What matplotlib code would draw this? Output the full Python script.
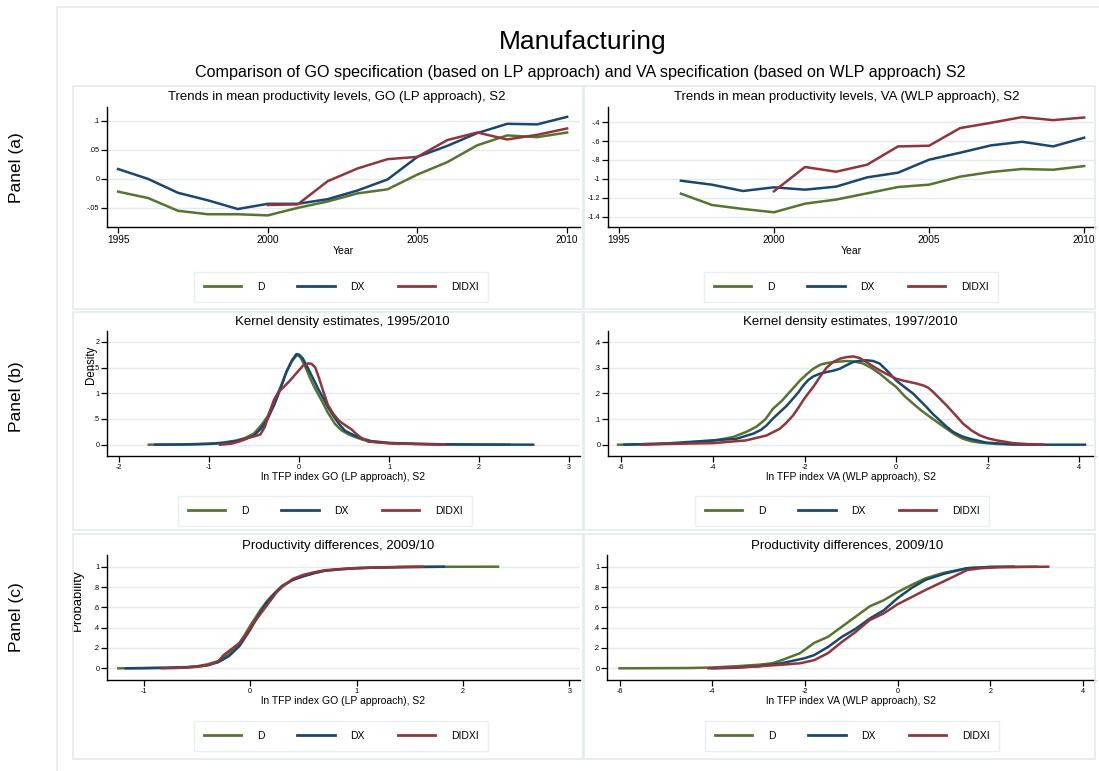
import matplotlib
matplotlib.use("Agg")
import matplotlib.pyplot as plt
from matplotlib.patches import Rectangle
from matplotlib.lines import Line2D

plt.rcParams['font.family'] = ['Liberation Sans', 'DejaVu Sans']

W, H = 1099, 771

# --- data -------------------------------------------------------------
series_names = ['D', 'DX', 'DIDXI']
colors = ['#55752f', '#1a476f', '#90353b']

# trends in mean productivity, GO (LP)
go_years = list(range(1995, 2011))
go_years_didxi = list(range(2000, 2011))
go_mean_d = [-0.022, -0.033, -0.055, -0.061, -0.061, -0.063, -0.050, -0.039,
             -0.025, -0.018, 0.0075, 0.029, 0.058, 0.075, 0.072, 0.080]
go_mean_dx = [0.017, 0.0, -0.024, -0.037, -0.052, -0.043, -0.043, -0.035,
              -0.020, -0.001, 0.038, 0.057, 0.079, 0.095, 0.094, 0.107]
go_mean_didxi = [-0.045, -0.044, -0.004, 0.018, 0.034, 0.038, 0.067, 0.080,
                 0.068, 0.076, 0.087]

# trends in mean productivity, VA (WLP)
va_years = list(range(1997, 2011))
va_years_didxi = list(range(2000, 2011))
va_mean_d = [-1.157, -1.277, -1.319, -1.354, -1.263, -1.220, -1.154, -1.087,
             -1.062, -0.977, -0.928, -0.896, -0.904, -0.865]
va_mean_dx = [-1.020, -1.062, -1.129, -1.090, -1.115, -1.083, -0.985, -0.935,
              -0.798, -0.724, -0.646, -0.608, -0.657, -0.565]
va_mean_didxi = [-1.132, -0.875, -0.925, -0.851, -0.657, -0.650, -0.463,
                 -0.407, -0.347, -0.379, -0.351]

# kernel densities, GO
kd_go_x_d = [-1.67, -1.3, -1.0, -0.85, -0.7, -0.6, -0.5, -0.42, -0.35, -0.27, -0.2,
             -0.14, -0.08, -0.04, -0.02, 0.01, 0.06, 0.12, 0.18, 0.25, 0.32, 0.4,
             0.47, 0.55, 0.62, 0.7, 0.8, 1.0, 1.3, 1.7, 2.0, 2.33]
kd_go_y_d = [0, 0.005, 0.02, 0.04, 0.08, 0.13, 0.22, 0.38, 0.55, 0.86, 1.15, 1.42,
             1.62, 1.71, 1.74, 1.71, 1.55, 1.30, 1.08, 0.86, 0.62, 0.40, 0.28, 0.20,
             0.15, 0.10, 0.06, 0.03, 0.015, 0.005, 0.002, 0]
kd_go_x_dx = [-1.6, -1.2, -1.0, -0.85, -0.7, -0.6, -0.5, -0.42, -0.35, -0.27, -0.2,
              -0.14, -0.08, -0.03, 0.0, 0.04, 0.1, 0.16, 0.21, 0.27, 0.32, 0.38,
              0.44, 0.51, 0.6, 0.7, 0.8, 1.0, 1.3, 1.7, 2.1, 2.6]
kd_go_y_dx = [0, 0.005, 0.015, 0.03, 0.07, 0.11, 0.18, 0.32, 0.5, 0.8, 1.12, 1.42,
              1.64, 1.76, 1.75, 1.68, 1.48, 1.27, 1.09, 0.9, 0.73, 0.56, 0.41,
              0.27, 0.19, 0.12, 0.07, 0.035, 0.015, 0.005, 0.002, 0]
kd_go_x_didxi = [-0.88, -0.75, -0.65, -0.55, -0.48, -0.43, -0.38, -0.33, -0.28,
                 -0.23, -0.16, -0.1, -0.05, 0.01, 0.05, 0.1, 0.14, 0.18, 0.22, 0.26,
                 0.32, 0.38, 0.44, 0.51, 0.58, 0.64, 0.7, 0.77, 0.9, 1.07, 1.3, 1.61]
kd_go_y_didxi = [0, 0.02, 0.07, 0.14, 0.17, 0.2, 0.35, 0.62, 0.87, 1.02, 1.14,
                 1.25, 1.35, 1.47, 1.55, 1.58, 1.57, 1.5, 1.3, 1.08, 0.77, 0.6,
                 0.47, 0.38, 0.3, 0.2, 0.12, 0.06, 0.04, 0.02, 0.015, 0]

# kernel densities, VA
kd_va_x_d = [-6.07, -5.5, -4.73, -4.0, -3.56, -3.27, -3.05, -2.85, -2.69, -2.5, -2.3,
             -2.1, -1.95, -1.81, -1.65, -1.52, -1.3, -1.09, -0.9, -0.72, -0.55,
             -0.36, -0.18, 0.0, 0.18, 0.37, 0.55, 0.74, 0.92, 1.10, 1.28, 1.46,
             1.65, 1.83, 2.19, 2.56, 3.0]
kd_va_y_d = [0, 0.002, 0.005, 0.015, 0.03, 0.05, 0.07, 0.1, 0.14, 0.17, 0.21, 0.25,
             0.275, 0.296, 0.312, 0.318, 0.323, 0.326, 0.324, 0.316, 0.3, 0.277,
             0.25, 0.225, 0.19, 0.16, 0.133, 0.108, 0.085, 0.062, 0.04, 0.023,
             0.013, 0.008, 0.003, 0.001, 0]
kd_va_x_dx = [-5.93, -5.0, -4.0, -3.49, -3.12, -2.95, -2.83, -2.7, -2.54, -2.4, -2.25,
              -2.13, -2.03, -1.92, -1.81, -1.66, -1.52, -1.38, -1.23, -1.08, -0.94,
              -0.8, -0.65, -0.5, -0.36, -0.18, 0.0, 0.18, 0.37, 0.52, 0.66, 0.8,
              0.95, 1.1, 1.25, 1.43, 1.61, 1.97, 2.56, 3.3, 4.12]
kd_va_y_dx = [0, 0.005, 0.017, 0.023, 0.043, 0.058, 0.075, 0.1, 0.127, 0.15, 0.18,
              0.205, 0.23, 0.252, 0.266, 0.277, 0.283, 0.288, 0.296, 0.31, 0.322,
              0.327, 0.329, 0.326, 0.316, 0.285, 0.25, 0.225, 0.199, 0.172, 0.147,
              0.12, 0.095, 0.07, 0.049, 0.033, 0.023, 0.008, 0.001, 0, 0]
kd_va_x_didxi = [-5.56, -5.0, -4.0, -3.27, -2.83, -2.54, -2.4, -2.25, -2.13, -2.03,
                 -1.92, -1.81, -1.66, -1.52, -1.38, -1.23, -1.09, -0.94, -0.8, -0.65,
                 -0.5, -0.36, -0.18, 0.0, 0.15, 0.3, 0.45, 0.59, 0.7, 0.81, 0.95,
                 1.10, 1.28, 1.46, 1.65, 1.83, 2.0, 2.19, 2.56, 2.9, 3.21]
kd_va_y_didxi = [0, 0.003, 0.006, 0.017, 0.036, 0.062, 0.085, 0.114, 0.145, 0.173,
                 0.2, 0.225, 0.265, 0.30, 0.322, 0.335, 0.341, 0.344, 0.338, 0.322,
                 0.305, 0.29, 0.273, 0.257, 0.25, 0.244, 0.238, 0.231, 0.222, 0.205,
                 0.18, 0.153, 0.118, 0.082, 0.055, 0.036, 0.025, 0.017, 0.006,
                 0.002, 0.001]

# cumulative distributions 2009/10, GO
cd_go_x_d = [-1.24, -1.0, -0.8, -0.6, -0.5, -0.4, -0.3, -0.2, -0.1, -0.05, 0.0, 0.05,
             0.1, 0.15, 0.2, 0.25, 0.3, 0.4, 0.5, 0.6, 0.7, 0.85, 1.0, 1.2, 1.5,
             1.83, 2.33]
cd_go_y_d = [0, 0.002, 0.005, 0.012, 0.02, 0.04, 0.07, 0.14, 0.25, 0.33, 0.42, 0.5,
             0.58, 0.65, 0.71, 0.76, 0.81, 0.87, 0.91, 0.94, 0.96, 0.975, 0.985,
             0.992, 0.997, 0.999, 1.0]
cd_go_x_dx = [-1.17, -1.0, -0.8, -0.6, -0.5, -0.4, -0.3, -0.2, -0.1, -0.05, 0.0, 0.05,
              0.1, 0.15, 0.2, 0.25, 0.3, 0.4, 0.5, 0.6, 0.7, 0.85, 1.0, 1.2, 1.5,
              1.82]
cd_go_y_dx = [0, 0.002, 0.005, 0.01, 0.017, 0.03, 0.06, 0.12, 0.22, 0.30, 0.38, 0.47,
              0.56, 0.64, 0.70, 0.76, 0.81, 0.87, 0.905, 0.935, 0.96, 0.975, 0.985,
              0.992, 0.997, 1.0]
cd_go_x_didxi = [-0.83, -0.7, -0.6, -0.5, -0.4, -0.3, -0.25, -0.2, -0.1, -0.05, 0.0,
                 0.05, 0.1, 0.15, 0.2, 0.25, 0.3, 0.4, 0.5, 0.6, 0.7, 0.85, 1.0, 1.2,
                 1.4, 1.62]
cd_go_y_didxi = [0, 0.003, 0.008, 0.015, 0.03, 0.07, 0.13, 0.17, 0.25, 0.32, 0.40,
                 0.47, 0.54, 0.61, 0.68, 0.75, 0.80, 0.88, 0.92, 0.945, 0.965, 0.977,
                 0.987, 0.993, 0.998, 1.0]

# cumulative distributions 2009/10, VA
cd_va_x_d = [-6.0, -4.5, -4.0, -3.5, -3.0, -2.7, -2.5, -2.1, -1.8, -1.5, -1.2, -0.9,
             -0.6, -0.3, 0.0, 0.3, 0.6, 1.0, 1.5, 2.0, 3.0]
cd_va_y_d = [0, 0.003, 0.008, 0.02, 0.035, 0.05, 0.08, 0.15, 0.25, 0.31, 0.41, 0.51,
             0.61, 0.67, 0.75, 0.82, 0.885, 0.94, 0.985, 0.997, 1.0]
cd_va_x_dx = [-4.0, -3.5, -3.0, -2.5, -2.0, -1.8, -1.5, -1.2, -0.9, -0.6, -0.3, 0.0,
              0.3, 0.6, 1.0, 1.5, 2.0, 2.5]
cd_va_y_dx = [0, 0.005, 0.02, 0.05, 0.10, 0.13, 0.21, 0.31, 0.39, 0.49, 0.57, 0.69,
              0.79, 0.87, 0.93, 0.985, 0.998, 1.0]
cd_va_x_didxi = [-4.08, -3.5, -3.0, -2.5, -2.1, -1.8, -1.5, -1.2, -0.9, -0.6, -0.3,
                 0.0, 0.3, 0.6, 0.9, 1.2, 1.5, 1.8, 2.2, 3.25]
cd_va_y_didxi = [0, 0.01, 0.02, 0.035, 0.05, 0.08, 0.15, 0.26, 0.36, 0.475, 0.54,
                 0.63, 0.70, 0.77, 0.835, 0.90, 0.967, 0.985, 0.995, 1.0]

# tick labels (Stata style, no leading zero)
year_ticks = [1995, 2000, 2005, 2010]
go_mean_yticks = [-0.05, 0, 0.05, 0.1]
go_mean_ylabels = ['-.05', '0', '.05', '.1']
va_mean_yticks = [-1.4, -1.2, -1, -0.8, -0.6, -0.4]
va_mean_ylabels = ['-1.4', '-1.2', '-1', '-.8', '-.6', '-.4']
kd_go_xticks = [-2, -1, 0, 1, 2, 3]
kd_go_yticks = [0, 0.5, 1, 1.5, 2]
kd_go_ylabels = ['0', '.5', '1', '1.5', '2']
kd_va_xticks = [-6, -4, -2, 0, 2, 4]
kd_va_yticks = [0, 0.1, 0.2, 0.3, 0.4]
kd_va_ylabels = ['0', '.1', '.2', '.3', '.4']
cd_go_xticks = [-1, 0, 1, 2, 3]
cd_yticks = [0, 0.2, 0.4, 0.6, 0.8, 1]
cd_ylabels = ['0', '.2', '.4', '.6', '.8', '1']

# --- layout helpers -----------------------------------------------------
LINE = '#e3ebee'

fig = plt.figure(figsize=(W / 100, H / 100), dpi=100)


def fx(px):
    return px / W


def fy(py):
    return 1 - py / H


def box(x0, y0, x1, y1):
    fig.patches.append(Rectangle((fx(x0), fy(y1)), (x1 - x0) / W, (y1 - y0) / H,
                                 transform=fig.transFigure, fill=False,
                                 edgecolor=LINE, lw=1.2))


def make_axes(x0, ytop, x1, ybot, xlim, ylim, xticks, xlabels, yticks, ylabels,
              xsize=5.2):
    ax = fig.add_axes([fx(x0), fy(ybot), (x1 - x0) / W, (ybot - ytop) / H])
    ax.set_xlim(xlim)
    ax.set_ylim(ylim)
    for s in ['top', 'right']:
        ax.spines[s].set_visible(False)
    for s in ['left', 'bottom']:
        ax.spines[s].set_linewidth(1.0)
    ax.set_xticks(xticks)
    ax.set_xticklabels(xlabels, fontsize=xsize)
    ax.set_yticks(yticks)
    ax.set_yticklabels(ylabels, fontsize=5.2)
    ax.tick_params(length=4, width=0.9, pad=1.5)
    ax.grid(axis='y', color=LINE, lw=1.0)
    ax.set_axisbelow(True)
    return ax


def draw_legend(ax, lines, cx, cy):
    leg = ax.legend(lines, series_names, ncol=3, loc='center',
                    bbox_to_anchor=(fx(cx), fy(cy)), bbox_transform=fig.transFigure,
                    fontsize=7.5, frameon=True, fancybox=False, edgecolor=LINE,
                    handlelength=3.6, handletextpad=1.5, columnspacing=3.15,
                    borderpad=0.95, borderaxespad=0)
    leg.get_frame().set_linewidth(1.0)
    for h in leg.get_lines():
        h.set_linewidth(2.0)


def draw_series(ax, xs, ys):
    lines = []
    for x, y, c in zip(xs, ys, colors):
        ln, = ax.plot(x, y, color=c, lw=1.8, solid_joinstyle='round')
        lines.append(ln)
    return lines


# --- frame, titles, panel labels -----------------------------------------
fig.lines.append(Line2D([fx(57), fx(57)], [0, fy(7)], transform=fig.transFigure,
                        color=LINE, lw=1.2))
fig.lines.append(Line2D([fx(57), 1], [fy(7), fy(7)], transform=fig.transFigure,
                        color=LINE, lw=1.2))
for y0, y1 in [(86, 309), (312, 530), (534, 759)]:
    box(73, y0, 583, y1)
    box(584, y0, 1095, y1)

fig.text(fx(583), fy(42), 'Manufacturing', fontsize=19, ha='center', va='center')
fig.text(fx(580), fy(73), 'Comparison of GO specification (based on LP approach) and '
         'VA specification (based on WLP approach) S2', fontsize=11.6, ha='center',
         va='center')
for label, yc in [('Panel (a)', 168), ('Panel (b)', 397), ('Panel (c)', 617)]:
    fig.text(fx(17), fy(yc), label, fontsize=12.5, rotation=90, ha='center',
             va='center')

title_size = 9.5

# --- panel (a) ---------------------------------------------------------
ax = make_axes(107, 107, 580, 227, (1994.63, 2010.43), (-0.083, 0.124),
               year_ticks, [str(y) for y in year_ticks],
               go_mean_yticks, go_mean_ylabels, xsize=7.3)
lines = draw_series(ax, [go_years, go_years, go_years_didxi],
                    [go_mean_d, go_mean_dx, go_mean_didxi])
ax.set_title('Trends in mean productivity levels, GO (LP approach), S2',
             fontsize=title_size, pad=5, x=0.486)
ax.set_xlabel('Year', fontsize=7.5, labelpad=1)
draw_legend(ax, lines, 341, 287)

ax = make_axes(608, 107, 1095, 227, (1994.65, 2010.35), (-1.51, -0.24),
               year_ticks, [str(y) for y in year_ticks],
               va_mean_yticks, va_mean_ylabels, xsize=7.3)
lines = draw_series(ax, [va_years, va_years, va_years_didxi],
                    [va_mean_d, va_mean_dx, va_mean_didxi])
ax.set_title('Trends in mean productivity levels, VA (WLP approach), S2',
             fontsize=title_size, pad=5, x=0.49)
ax.set_xlabel('Year', fontsize=7.5, labelpad=1)
draw_legend(ax, lines, 851, 287)

# --- panel (b) ---------------------------------------------------------
ax = make_axes(107, 331, 580, 456, (-2.134, 3.12), (-0.22, 2.21),
               kd_go_xticks, [str(t) for t in kd_go_xticks],
               kd_go_yticks, kd_go_ylabels)
lines = draw_series(ax, [kd_go_x_d, kd_go_x_dx, kd_go_x_didxi],
                    [kd_go_y_d, kd_go_y_dx, kd_go_y_didxi])
ax.set_title('Kernel density estimates, 1995/2010', fontsize=title_size, pad=4,
             x=0.497)
ax.set_xlabel('ln TFP index GO (LP approach), S2', fontsize=7.5, labelpad=1)
ax.set_ylabel('Density', fontsize=8.3)
ax.yaxis.set_label_coords(-0.021, 0.73)
draw_legend(ax, lines, 325, 511)

ax = make_axes(608, 331, 1095, 456, (-6.29, 4.34), (-0.044, 0.443),
               kd_va_xticks, [str(t) for t in kd_va_xticks],
               kd_va_yticks, kd_va_ylabels)
lines = draw_series(ax, [kd_va_x_d, kd_va_x_dx, kd_va_x_didxi],
                    [kd_va_y_d, kd_va_y_dx, kd_va_y_didxi])
ax.set_title('Kernel density estimates, 1997/2010', fontsize=title_size, pad=4,
             x=0.497)
ax.set_xlabel('ln TFP index VA (WLP approach), S2', fontsize=7.5, labelpad=1)
draw_legend(ax, lines, 842, 511)

# --- panel (c) ---------------------------------------------------------
ax = make_axes(107, 555, 580, 680, (-1.346, 3.10), (-0.115, 1.115),
               cd_go_xticks, [str(t) for t in cd_go_xticks],
               cd_yticks, cd_ylabels)
lines = draw_series(ax, [cd_go_x_d, cd_go_x_dx, cd_go_x_didxi],
                    [cd_go_y_d, cd_go_y_dx, cd_go_y_didxi])
ax.set_title('Productivity differences, 2009/10', fontsize=title_size, pad=4,
             x=0.489)
ax.set_xlabel('ln TFP index GO (LP approach), S2', fontsize=7.5, labelpad=1)
ax.set_ylabel('Probability', fontsize=9.5)
ax.yaxis.set_label_coords(-0.049, 0.64)
draw_legend(ax, lines, 341, 736)

ax = make_axes(607, 555, 1095, 680, (-6.27, 4.26), (-0.115, 1.115),
               kd_va_xticks, [str(t) for t in kd_va_xticks],
               cd_yticks, cd_ylabels)
lines = draw_series(ax, [cd_va_x_d, cd_va_x_dx, cd_va_x_didxi],
                    [cd_va_y_d, cd_va_y_dx, cd_va_y_didxi])
ax.set_title('Productivity differences, 2009/10', fontsize=title_size, pad=4,
             x=0.492)
ax.set_xlabel('ln TFP index VA (WLP approach), S2', fontsize=7.5, labelpad=1)
draw_legend(ax, lines, 852, 736)

fig.savefig('out.png', dpi=100)
